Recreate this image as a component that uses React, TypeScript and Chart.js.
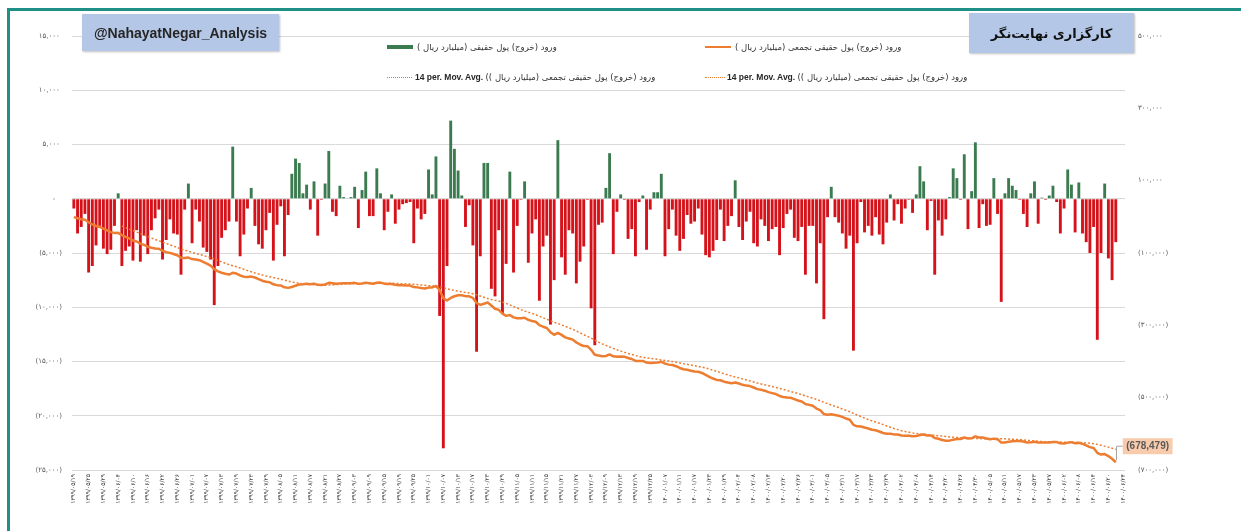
import React, { useEffect, useRef } from "react";
import { Chart, registerables } from "chart.js";

Chart.register(...registerables);

// ---- Data (billion rial) ----
const FLOWS: number[] = [
  -900, -3200, -2600, -1400, -6800, -6200, -4300, -2500, -4600, -5100,
  -4700, -2500, 500, -6200, -4800, -4400, -5700, -2900, -5800, -3400,
  -5100, -2900, -1800, -1000, -5600, -3800, -1900, -3200, -3300, -7000,
  -1000, 1400, -4100, -1000, -2100, -4500, -4900, -5600, -9800, -6200,
  -3600, -2900, -2100, 4800, -2100, -5300, -3300, -900, 1000, -2500,
  -4200, -4600, -2900, -1300, -5700, -2400, -700, -5300, -1500, 2300,
  3700, 3300, 500, 1300, -1000, 1600, -3400, -100, 1400, 4400,
  -1200, -1600, 1200, 150, 50, 150, 1100, -2700, 800, 2500,
  -1600, -1600, 2800, 500, -2900, -1200, 400, -2300, -1000, -500,
  -400, -300, -4100, -900, -1900, -1400, 2700, 400, 3900, -10800,
  -23000, -6200, 7200, 4600, 2600, 300, -2600, -600, -4300, -14100,
  -5300, 3300, 3300, -8300, -9000, -2900, -10600, -6000, 2500, -6800,
  -2500, -100, 1600, -5900, -3200, -1900, -9400, -4400, -3400, -11600,
  -7500, 5400, -5400, -7000, -2900, -3200, -7800, -5800, -4400, -100,
  -10100, -13500, -2400, -2200, 1000, 4200, -5100, -1200, 400, -100,
  -3700, -2800, -5300, -300, 300, -4700, -1000, 600, 600, 2300,
  -5300, -2800, -1000, -3400, -4800, -3700, -1500, -2300, -2100, -900,
  -3300, -5200, -5400, -4800, -3800, -1000, -3900, -2500, -1600, 1700,
  -2600, -3800, -2100, -1200, -4100, -4400, -1900, -2500, -3900, -2800,
  -2600, -5200, -2700, -1400, -1000, -3600, -3900, -2600, -7000, -2500,
  -2500, -7800, -4100, -11100, -1700, 1100, -1700, -2200, -3200, -4600,
  -3400, -14000, -4100, -300, -3100, -2500, -3400, -1700, -3300, -4200,
  -2200, 400, -2000, -500, -2300, -900, -100, -1300, 400, 3000,
  1600, -2900, -200, -7000, -2000, -3400, -1900, 150, 2800, 1900,
  -100, 4100, -2800, 700, 5200, -2700, -500, -2500, -2400, 1900,
  -1400, -9500, 500, 1900, 1200, 800, -100, -1400, -2600, 500,
  1600, -2300, 100, -100, 300, 1200, -300, -3200, -900, 2700,
  1300, -3100, 1500, -3200, -4000, -5000, -2600, -13000, -5000, 1400,
  -5500, -7500, -4000,
];

const CUMULATIVE: number[] = [
  -900, -4100, -6700, -8100, -14900, -21100, -25400, -27900, -32500, -37600,
  -42300, -44800, -44300, -50500, -55300, -59700, -65400, -68300, -74100, -77500,
  -82600, -85500, -87300, -88300, -93900, -97700, -99600, -102800, -106100, -113100,
  -114100, -112700, -116800, -117800, -119900, -124400, -129300, -134900, -144700, -150900,
  -154500, -157400, -159500, -154700, -156800, -162100, -165400, -166300, -165300, -167800,
  -172000, -176600, -179500, -180800, -186500, -188900, -189600, -194900, -196400, -194100,
  -190400, -187100, -186600, -185300, -186300, -184700, -188100, -188200, -186800, -182400,
  -183600, -185200, -184000, -183850, -183800, -183650, -182550, -185250, -184450, -181950,
  -183550, -185150, -182350, -181850, -184750, -185950, -185550, -187850, -188850, -189350,
  -189750, -190050, -194150, -195050, -196950, -198350, -195650, -195250, -191350, -202150,
  -225150, -231350, -224150, -219550, -216950, -216650, -219250, -219850, -224150, -238250,
  -243550, -240250, -236950, -245250, -254250, -257150, -267750, -273750, -271250, -278050,
  -280550, -280650, -279050, -284950, -288150, -290050, -299450, -303850, -307250, -318850,
  -326350, -320950, -326350, -333350, -336250, -339450, -347250, -353050, -357450, -357550,
  -367650, -381150, -383550, -385750, -384750, -380550, -385650, -386850, -386450, -386550,
  -390250, -393050, -398350, -398650, -398350, -403050, -404050, -403450, -402850, -400550,
  -405850, -408650, -409650, -413050, -417850, -421550, -423050, -425350, -427450, -428350,
  -431650, -436850, -442250, -447050, -450850, -451850, -455750, -458250, -459850, -458150,
  -460750, -464550, -466650, -467850, -471950, -476350, -478250, -480750, -484650, -487450,
  -490050, -495250, -497950, -499350, -500350, -503950, -507850, -510450, -517450, -519950,
  -522450, -530250, -534350, -545450, -547150, -546050, -547750, -549950, -553150, -557750,
  -561150, -575150, -579250, -579550, -582650, -585150, -588550, -590250, -593550, -597750,
  -599950, -599550, -601550, -602050, -604350, -605250, -605350, -606650, -606250, -603250,
  -601650, -604550, -604750, -611750, -613750, -617150, -619050, -618900, -616100, -614200,
  -614300, -610200, -613000, -612300, -607100, -609800, -610300, -612800, -615200, -613300,
  -614700, -624200, -623700, -621800, -620600, -619800, -619900, -621300, -623900, -623400,
  -621800, -624100, -624000, -624100, -623800, -622600, -622900, -626100, -627000, -624300,
  -623000, -626100, -624600, -627800, -631800, -636800, -639400, -652400, -657400, -656000,
  -661500, -669000, -678479,
];

// Category axis: Jalali trading days (Sat..Wed) starting from START_DATE
const START_DATE = [1399, 5, 19];
const START_WEEKDAY = 1; // 0 = Saturday
const CATEGORY_COUNT = 285;
const MA_PERIOD = 14;

const LABEL_FLOW = "ورود (خروج) پول حقیقی (میلیارد ریال )";
const LABEL_CUM = "ورود (خروج) پول حقیقی تجمعی (میلیارد ریال )";
const LABEL_MA_PREFIX = "14 per. Mov. Avg. ";
const LABEL_MA_NAME = "ورود (خروج) پول حقیقی تجمعی (میلیارد ریال ))";
const TITLE_LEFT = "@NahayatNegar_Analysis";
const TITLE_RIGHT = "کارگزاری نهایت‌نگر";

const GREEN = "#3b7b4f";
const RED = "#d5121a";
const ORANGE = "#ED7D31";
const GREEN_LIGHT = "#70AD47";

const FA_DIGITS = "۰۱۲۳۴۵۶۷۸۹";
const toFa = (s: string) => s.replace(/\d/g, (d) => FA_DIGITS[+d]);
const pad2 = (n: number) => (n < 10 ? "0" + n : String(n));

function monthDays(y: number, m: number) {
  if (m <= 6) return 31;
  if (m <= 11) return 30;
  return y === 1399 ? 30 : 29;
}

function buildDates(count: number): string[] {
  const out: string[] = [];
  let [y, m, d] = START_DATE;
  let wd = START_WEEKDAY;
  while (out.length < count) {
    const nowruz = m === 1 && d <= 4;
    if (wd <= 4 && !nowruz) out.push(toFa(`${y}/${pad2(m)}/${pad2(d)}`));
    d++;
    wd = (wd + 1) % 7;
    if (d > monthDays(y, m)) {
      d = 1;
      m++;
      if (m > 12) {
        m = 1;
        y++;
      }
    }
  }
  return out;
}

const DATES = buildDates(CATEGORY_COUNT);

function movingAverage(arr: number[], n: number): (number | null)[] {
  return arr.map((_, i) => {
    if (i < n - 1) return null;
    let s = 0;
    for (let k = i - n + 1; k <= i; k++) s += arr[k];
    return s / n;
  });
}

function fmtAxis(v: number): string {
  if (v === 0) return "-   ";
  const s = toFa(Math.abs(v).toLocaleString("en-US"));
  return v < 0 ? `(${s})` : `${s} `;
}

const endLabelPlugin = {
  id: "endLabel",
  afterDatasetsDraw(chart: any) {
    const meta = chart.getDatasetMeta(0);
    const pts = meta.data;
    if (!pts || !pts.length) return;
    const pt = pts[pts.length - 1];
    const v = CUMULATIVE[CUMULATIVE.length - 1];
    const text = v < 0 ? `(${Math.abs(v).toLocaleString("en-US")})` : v.toLocaleString("en-US");
    const ctx = chart.ctx;
    ctx.save();
    ctx.font = 'bold 10px "Liberation Sans"';
    const w = ctx.measureText(text).width + 7;
    const bh = 16;
    const bx = pt.x + 7;
    const by = pt.y - 24;
    ctx.strokeStyle = "#a6a6a6";
    ctx.lineWidth = 1;
    ctx.beginPath();
    ctx.moveTo(Math.round(pt.x) + 0.5, pt.y - 2);
    ctx.lineTo(Math.round(pt.x) + 0.5, by + bh / 2);
    ctx.lineTo(bx, by + bh / 2);
    ctx.stroke();
    ctx.fillStyle = "#f8cbad";
    ctx.fillRect(bx, by, w, bh);
    ctx.fillStyle = "#595959";
    ctx.textBaseline = "middle";
    ctx.textAlign = "left";
    ctx.fillText(text, bx + 3.5, by + bh / 2 + 0.5);
    ctx.restore();
  },
};

export default function App() {
  const ref = useRef<HTMLCanvasElement>(null);

  useEffect(() => {
    if (!ref.current) return;
    const chart = new Chart(ref.current, {
      type: "bar",
      data: {
        labels: DATES,
        datasets: [
          {
            type: "line",
            label: LABEL_CUM,
            data: CUMULATIVE,
            yAxisID: "y1",
            borderColor: ORANGE,
            borderWidth: 2.5,
            pointRadius: 0,
            tension: 0,
            borderJoinStyle: "round",
            order: 0,
          } as any,
          {
            type: "line",
            label: LABEL_MA_PREFIX + LABEL_MA_NAME,
            data: movingAverage(CUMULATIVE, MA_PERIOD),
            yAxisID: "y1",
            borderColor: ORANGE,
            borderWidth: 1.5,
            borderDash: [2, 2],
            pointRadius: 0,
            tension: 0,
            order: 1,
          } as any,
          {
            type: "bar",
            label: LABEL_FLOW,
            data: FLOWS,
            yAxisID: "y",
            backgroundColor: FLOWS.map((v) => (v >= 0 ? GREEN : RED)),
            borderWidth: 0,
            categoryPercentage: 1,
            barPercentage: 0.78,
            order: 2,
          } as any,
        ],
      },
      options: {
        responsive: false,
        animation: false,
        devicePixelRatio: 1,
        layout: { padding: { top: 36, left: 0, right: 0, bottom: 0 } },
        plugins: { legend: { display: false }, tooltip: { enabled: false } },
        scales: {
          x: {
            offset: true,
            grid: { display: false, drawTicks: false },
            border: { display: false },
            ticks: {
              autoSkip: false,
              minRotation: 90,
              maxRotation: 90,
              padding: 4,
              color: "#404040",
              font: { family: "DejaVu Sans", size: 6 },
              callback: (_v: any, i: number) => (i % 4 === 0 ? DATES[i] : ""),
            },
            afterFit: (s: any) => {
              s.height = 61;
            },
          },
          y: {
            type: "linear",
            position: "left",
            min: -25000,
            max: 15000,
            grid: { color: "#d9d9d9", lineWidth: 1, drawTicks: false },
            border: { display: false },
            ticks: {
              stepSize: 5000,
              padding: 10,
              color: "#595959",
              font: { family: "DejaVu Sans", size: 7 },
              callback: (v: any) => fmtAxis(Number(v)),
            },
            afterFit: (s: any) => {
              s.width = 72;
            },
          },
          y1: {
            type: "linear",
            position: "right",
            min: -700000,
            max: 500000,
            grid: { display: false, drawTicks: false },
            border: { display: false },
            ticks: {
              stepSize: 200000,
              padding: 13,
              color: "#595959",
              font: { family: "DejaVu Sans", size: 7 },
              callback: (v: any) => fmtAxis(Number(v)),
            },
            afterFit: (s: any) => {
              s.width = 116;
            },
          },
        },
      } as any,
      plugins: [endLabelPlugin],
    });
    return () => chart.destroy();
  }, []);

  const legendText: React.CSSProperties = {
    position: "absolute",
    fontFamily: "DejaVu Sans",
    fontSize: 8.5,
    color: "#333",
    whiteSpace: "nowrap",
    lineHeight: "12px",
  };

  return (
    <div
      style={{
        position: "fixed",
        left: 0,
        top: 0,
        width: 1241,
        height: 531,
        background: "#fff",
        overflow: "hidden",
        fontFamily: "DejaVu Sans",
      }}
    >
      <div
        style={{
          position: "absolute",
          left: 7,
          top: 8,
          right: -10,
          bottom: -10,
          borderTop: "3px solid #1f9085",
          borderLeft: "3px solid #1f9085",
        }}
      />
      <canvas
        ref={ref}
        width={1241}
        height={531}
        style={{ position: "absolute", left: 0, top: 0, width: 1241, height: 531 }}
      />
      {/* title boxes */}
      <div
        style={{
          position: "absolute",
          left: 82,
          top: 14,
          width: 197,
          height: 37,
          background: "#b4c7e7",
          boxShadow: "1px 1px 2px rgba(0,0,0,0.25)",
          display: "flex",
          alignItems: "center",
          justifyContent: "center",
          fontFamily: "Liberation Sans",
          fontWeight: "bold",
          fontSize: 14,
          color: "#262626",
        }}
      >
        {TITLE_LEFT}
      </div>
      <div
        dir="rtl"
        style={{
          position: "absolute",
          left: 969,
          top: 13,
          width: 165,
          height: 40,
          background: "#b4c7e7",
          boxShadow: "1px 1px 2px rgba(0,0,0,0.25)",
          display: "flex",
          alignItems: "center",
          justifyContent: "center",
          fontFamily: "DejaVu Sans",
          fontWeight: "bold",
          fontSize: 13,
          color: "#111",
        }}
      >
        {TITLE_RIGHT}
      </div>
      {/* legend row 1 */}
      <div style={{ position: "absolute", left: 387, top: 45, width: 26, height: 4, background: GREEN }} />
      <div dir="rtl" style={{ ...legendText, left: 417, top: 41 }}>
        {LABEL_FLOW}
      </div>
      <div style={{ position: "absolute", left: 705, top: 46, width: 26, height: 0, borderTop: `2.5px solid ${ORANGE}` }} />
      <div dir="rtl" style={{ ...legendText, left: 735, top: 41 }}>
        {LABEL_CUM}
      </div>
      {/* legend row 2 */}
      <div style={{ position: "absolute", left: 387, top: 77, width: 25, height: 0, borderTop: `1px dotted ${GREEN_LIGHT}` }} />
      <div style={{ ...legendText, left: 415, top: 71 }}>
        <span style={{ fontFamily: "Liberation Sans", fontWeight: "bold", color: "#262626" }}>{LABEL_MA_PREFIX}</span>
        <span dir="rtl" style={{ unicodeBidi: "isolate" }}>{LABEL_MA_NAME}</span>
      </div>
      <div style={{ position: "absolute", left: 705, top: 77, width: 20, height: 0, borderTop: `1px dotted ${ORANGE}` }} />
      <div style={{ ...legendText, left: 727, top: 71 }}>
        <span style={{ fontFamily: "Liberation Sans", fontWeight: "bold", color: "#262626" }}>{LABEL_MA_PREFIX}</span>
        <span dir="rtl" style={{ unicodeBidi: "isolate" }}>{LABEL_MA_NAME}</span>
      </div>
    </div>
  );
}
